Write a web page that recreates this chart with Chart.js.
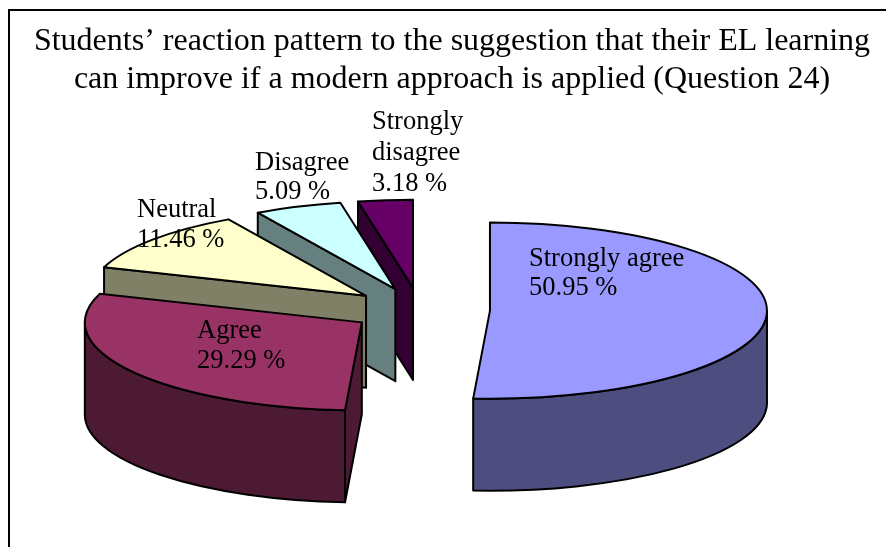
<!DOCTYPE html>
<html>
<head>
<meta charset="utf-8">
<style>html,body{margin:0;padding:0;background:#fff}canvas{display:block}</style>
<script src="https://cdn.jsdelivr.net/npm/chart.js@4"></script>
</head>
<body>
<canvas id="c" width="886" height="547"></canvas>
<script>
const categories = ['Strongly agree', 'Agree', 'Neutral', 'Disagree', 'Strongly disagree'];
const percentages = [50.95, 29.29, 11.46, 5.09, 3.18];
const titleLines = ['Students’ reaction pattern to the suggestion that their EL learning',
                    'can improve if a modern approach is applied (Question 24)'];
const topColors = ['#9999FF', '#993366', '#FFFFCC', '#CCFFFF', '#660066'];
const wallColors = ['#4D4D80', '#4D1A33', '#808066', '#668080', '#330033'];
const labelLines = [['Strongly agree'], ['Agree'], ['Neutral'], ['Disagree'], ['Strongly', 'disagree']];
const labelAnchors = [[529, 266, 29], [197, 338, 30], [137, 217, 30], [255, 170, 29], [372, 129, 31]];

const SERIF = '"Liberation Serif", "Times New Roman", serif';
const VIEW = { cx: 420, cy: 310, squash: 0.318, depth: 92, explode: 70, radius: 277 };
const PAINT_ORDER = [4, 3, 2, 1, 0];

function place(arc) {
  const mid = (arc.startAngle + arc.endAngle) / 2;
  return {
    x: VIEW.cx + Math.cos(mid) * VIEW.explode,
    y: VIEW.cy + Math.sin(mid) * VIEW.explode * VIEW.squash
  };
}
function rimPoint(o, a, r) {
  return { x: o.x + Math.cos(a) * r, y: o.y + Math.sin(a) * r * VIEW.squash };
}
function styleEdge(ctx) {
  ctx.strokeStyle = '#000';
  ctx.lineWidth = 2;
  ctx.lineJoin = 'round';
}
function cutFace(ctx, o, a, r, color) {
  const p = rimPoint(o, a, r);
  ctx.beginPath();
  ctx.moveTo(o.x, o.y);
  ctx.lineTo(p.x, p.y);
  ctx.lineTo(p.x, p.y + VIEW.depth);
  ctx.lineTo(o.x, o.y + VIEW.depth);
  ctx.closePath();
  ctx.fillStyle = color;
  ctx.fill();
  ctx.stroke();
}
function outerWall(ctx, o, s, e, r, color) {
  const a1 = Math.max(s, 0), a2 = Math.min(e, Math.PI);
  if (a2 <= a1) return;
  const ry = r * VIEW.squash;
  ctx.beginPath();
  ctx.ellipse(o.x, o.y, r, ry, 0, a1, a2, false);
  ctx.ellipse(o.x, o.y + VIEW.depth, r, ry, 0, a2, a1, true);
  ctx.closePath();
  ctx.fillStyle = color;
  ctx.fill();
  ctx.stroke();
}

const pie3d = {
  id: 'pie3d',
  beforeDraw(chart) {
    const ctx = chart.ctx;
    ctx.save();
    ctx.strokeStyle = '#000';
    ctx.lineWidth = 2;
    ctx.beginPath();
    ctx.moveTo(9, chart.height);
    ctx.lineTo(9, 10);
    ctx.lineTo(chart.width, 10);
    ctx.stroke();
    ctx.restore();
  },
  beforeDatasetDraw(chart, args) {
    const ctx = chart.ctx;
    const arcs = args.meta.data;
    ctx.save();
    styleEdge(ctx);
    PAINT_ORDER.forEach(i => {
      const arc = arcs[i], o = place(arc), r = arc.outerRadius;
      if (Math.cos(arc.startAngle) < -1e-6) cutFace(ctx, o, arc.startAngle, r, wallColors[i]);
      if (Math.cos(arc.endAngle) > 1e-6) cutFace(ctx, o, arc.endAngle, r, wallColors[i]);
      outerWall(ctx, o, arc.startAngle, arc.endAngle, r, wallColors[i]);
    });
    ctx.restore();
    PAINT_ORDER.forEach(i => {
      const arc = arcs[i], o = place(arc), r = arc.outerRadius;
      ctx.save();
      ctx.translate(o.x, o.y);
      ctx.scale(1, VIEW.squash);
      ctx.translate(-arc.x, -arc.y);
      arc.draw(ctx);
      ctx.restore();
      ctx.save();
      styleEdge(ctx);
      ctx.beginPath();
      ctx.moveTo(o.x, o.y);
      ctx.ellipse(o.x, o.y, r, r * VIEW.squash, 0, arc.startAngle, arc.endAngle, false);
      ctx.closePath();
      ctx.stroke();
      ctx.restore();
    });
    return false;
  },
  afterDraw(chart) {
    const ctx = chart.ctx;
    ctx.save();
    ctx.fillStyle = '#000';
    ctx.font = '26.5px ' + SERIF;
    ctx.textAlign = 'left';
    ctx.textBaseline = 'alphabetic';
    categories.forEach((c, i) => {
      const [x, y, step] = labelAnchors[i];
      const lines = labelLines[i].concat(percentages[i].toFixed(2) + ' %');
      lines.forEach((t, k) => ctx.fillText(t, x, y + k * step));
    });
    ctx.restore();
  }
};

new Chart(document.getElementById('c'), {
  type: 'pie',
  data: {
    labels: categories,
    datasets: [{
      data: percentages,
      backgroundColor: topColors,
      borderWidth: 0,
      radius: VIEW.radius
    }]
  },
  plugins: [pie3d],
  options: {
    responsive: false,
    animation: false,
    events: [],
    layout: { padding: { left: 18 } },
    plugins: {
      legend: { display: false },
      tooltip: { enabled: false },
      title: {
        display: true,
        text: titleLines,
        color: '#000',
        font: { family: SERIF, size: 32, weight: 'normal', lineHeight: 1.2 },
        padding: { top: 22, bottom: 10 }
      }
    }
  }
});
</script>
</body>
</html>
